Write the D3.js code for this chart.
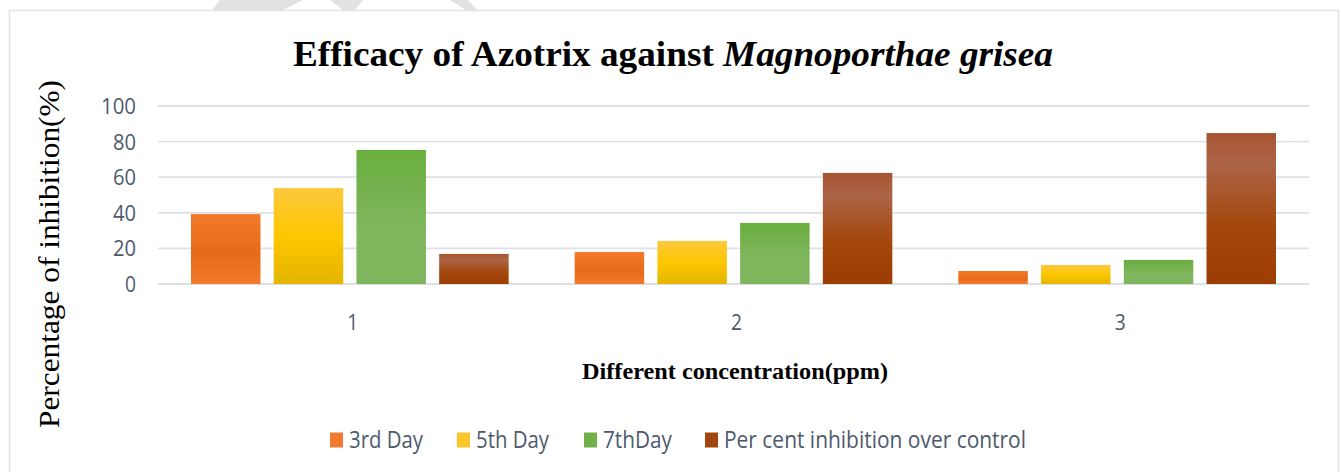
<!DOCTYPE html>
<html><head><meta charset="utf-8">
<script src="https://cdn.jsdelivr.net/npm/d3@7"></script>
<style>body{margin:0;background:#fff;} svg{display:block;}</style>
</head><body><svg id="c" width="1341" height="472"></svg>
<script>
const categories = ["1", "2", "3"];
const seriesNames = ["3rd Day", "5th Day", "7thDay", "Per cent inhibition over control"];
const day3 = [39.3, 18.0, 7.3];
const day5 = [53.9, 24.2, 10.7];
const day7 = [75.3, 34.3, 13.5];
const overControl = [16.9, 62.4, 84.8];
const yTicks = [0, 20, 40, 60, 80, 100];
const seriesValues = [day3, day5, day7, overControl];

const svg = d3.select("#c");
const W = 1341, H = 472;
const m = {left: 158, right: 1309, top: 106, bottom: 284};

// watermark fragments at top
const wm = [[[220,0],[303,0],[283,10],[212,10]],[[330,0],[363,0],[355,10],[343,10]],[[450,0],[468,0],[477,10],[466,10]]];
svg.selectAll("polygon.wm").data(wm).enter().append("polygon")
  .attr("points", d => d.map(p => p.join(",")).join(" ")).attr("fill", "#e2e2e2");

// chart border
svg.append("path").attr("d", `M9.5,${H} V10.5 H1338.5 V${H}`).attr("fill","none").attr("stroke","#dfe3ea").attr("stroke-width",1.5);

// gradients
const defs = svg.append("defs");
const grads = [
  [["0","#f47b2c"],["0.55","#e66a19"],["1","#f27a2a"]],
  [["0","#fec83e"],["0.5","#fdc700"],["1","#e3b500"]],
  [["0","#6aae3e"],["0.6","#80b65e"],["1","#7fb65d"]],
  [["0","#a75530"],["0.2","#ad6448"],["0.6","#a4480e"],["1","#9c3d03"]]
];
grads.forEach((g,i) => {
  const lg = defs.append("linearGradient").attr("id","g"+i).attr("x1",0).attr("y1",0).attr("x2",0).attr("y2",1);
  g.forEach(s => lg.append("stop").attr("offset", s[0]).attr("stop-color", s[1]));
});
const legendColors = ["#f07a2e","#fdc628","#72b049","#a2470f"];

const y = d3.scaleLinear().domain([0,100]).range([m.bottom, m.top]);
const x0 = d3.scaleBand().domain(categories).range([m.left, m.right]).padding(0);
const x1 = d3.scaleBand().domain(d3.range(4)).range([33, x0.bandwidth()-33]).paddingInner(0.16).paddingOuter(0);

// gridlines
svg.append("g").selectAll("line").data(yTicks).enter().append("line")
  .attr("x1", m.left).attr("x2", m.right)
  .attr("y1", d => y(d)).attr("y2", d => y(d))
  .attr("stroke", "#dde1e7").attr("stroke-width", d => d===0 ? 2.2 : 1.8);

// y axis tick labels
const yAxis = d3.axisLeft(y).tickValues(yTicks).tickSize(0).tickPadding(0);
const ga = svg.append("g").attr("transform","translate(136,0)").call(yAxis);
ga.select(".domain").remove();
ga.selectAll("text").attr("font-family","'Open Sans', sans-serif").attr("font-size",21).attr("fill","#4d5a6e")
  .attr("dy","0.36em").attr("textLength", d => d===100 ? 35 : (d===0 ? 11 : 23)).attr("lengthAdjust","spacingAndGlyphs");

// bars
categories.forEach((c, ci) => {
  const g = svg.append("g").attr("transform", `translate(${x0(c)},0)`);
  g.selectAll("rect").data(seriesValues.map((s,si)=>({si, v:s[ci]}))).enter().append("rect")
    .attr("x", d => x1(d.si)).attr("width", x1.bandwidth())
    .attr("y", d => y(d.v)).attr("height", d => y(0) - y(d.v))
    .attr("fill", d => `url(#g${d.si})`);
});

// category labels
const xAxis = d3.axisBottom(x0).tickSize(0).tickPadding(0);
const gx = svg.append("g").attr("transform", `translate(3,${m.bottom + 31})`).call(xAxis);
gx.select(".domain").remove();
gx.selectAll("text").attr("font-family","'Open Sans', sans-serif").attr("font-size",21).attr("fill","#4d5a6e").attr("dy","0.72em")
  .attr("textLength", 11).attr("lengthAdjust","spacingAndGlyphs");

// title
const t = svg.append("text").attr("x", 673).attr("y", 66).attr("text-anchor","middle")
  .attr("font-family","'Liberation Serif', 'Times New Roman', serif").attr("font-weight","bold").attr("font-size",36).attr("fill","#000")
  .attr("textLength", 760).attr("lengthAdjust","spacingAndGlyphs");
t.append("tspan").text("Efficacy of Azotrix against ");
t.append("tspan").attr("font-style","italic").text("Magnoporthae grisea");

// y title
svg.append("text").attr("transform","translate(59,254) rotate(-90)").attr("text-anchor","middle")
  .attr("font-family","'Liberation Serif', serif").attr("font-size",30).attr("fill","#000")
  .attr("textLength", 348).attr("lengthAdjust","spacingAndGlyphs")
  .text("Percentage of inhibition(%)");

// x title
svg.append("text").attr("x", 735).attr("y", 379).attr("text-anchor","middle")
  .attr("font-family","'Liberation Serif', serif").attr("font-weight","bold").attr("font-size",23).attr("fill","#000")
  .attr("textLength", 306).attr("lengthAdjust","spacingAndGlyphs")
  .text("Different concentration(ppm)");

// legend
const legX = [330, 457, 584, 705];
const legW = [74, 73, 69, 302];
const lg = svg.append("g");
seriesNames.forEach((n,i) => {
  lg.append("rect").attr("x", legX[i]).attr("y", 432.5).attr("width", 13).attr("height", 15).attr("fill", legendColors[i]);
  lg.append("text").attr("x", legX[i]+19).attr("y", 448).attr("font-family","'Open Sans', sans-serif").attr("font-size",23)
    .attr("fill","#4d5a6e").attr("textLength", legW[i]).attr("lengthAdjust","spacingAndGlyphs").text(n);
});
</script></body></html>
